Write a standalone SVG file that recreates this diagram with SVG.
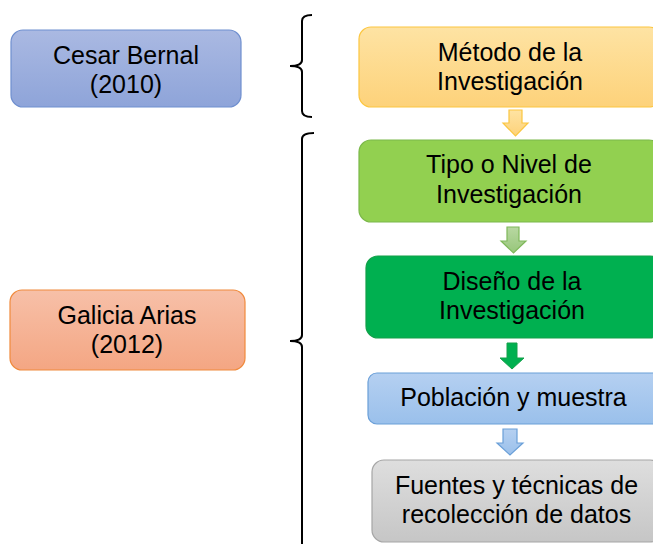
<svg xmlns="http://www.w3.org/2000/svg" width="653" height="544" viewBox="0 0 653 544">
<defs>
<linearGradient id="gBlue" x1="0" y1="0" x2="0" y2="1"><stop offset="0" stop-color="#aab9e2"/><stop offset="1" stop-color="#8ea4d9"/></linearGradient>
<linearGradient id="gOrange" x1="0" y1="0" x2="0" y2="1"><stop offset="0" stop-color="#f7c0a8"/><stop offset="1" stop-color="#f4a683"/></linearGradient>
<linearGradient id="gGold" x1="0" y1="0" x2="0" y2="1"><stop offset="0" stop-color="#fee3a3"/><stop offset="1" stop-color="#fdd27a"/></linearGradient>
<linearGradient id="gSky" x1="0" y1="0" x2="0" y2="1"><stop offset="0" stop-color="#b5d0f1"/><stop offset="1" stop-color="#9ac0eb"/></linearGradient>
<linearGradient id="gGray" x1="0" y1="0" x2="0" y2="1"><stop offset="0" stop-color="#dedede"/><stop offset="1" stop-color="#c6c6c6"/></linearGradient>
<linearGradient id="gLgreen" x1="0" y1="0" x2="0" y2="1"><stop offset="0" stop-color="#b8d8a2"/><stop offset="1" stop-color="#97c67a"/></linearGradient>
</defs>
<style>
text{font-family:"Liberation Sans",Arial,sans-serif;font-size:25px;fill:#000;text-anchor:middle}
.br{fill:none;stroke:#000;stroke-width:2}
</style>
<g id="connectors">
<path class="br" d="M312,15 Q302,15 302,21 V60 Q302,66 290,66 Q302,66 302,72 V111 Q302,117 312,117"/>
<path class="br" d="M314,133 Q302,133 302,139 V335 Q302,341 290,341 Q302,341 302,347 V550"/>
<path d="M509,110 H522 V123 H528 L515.5,136 L503,123 H509 Z" fill="url(#gGold)" stroke="#fbc640" stroke-width="1.2"/>
<path d="M507,227 H519 V241 H526 L513.5,253 L501,241 H507 Z" fill="url(#gLgreen)" stroke="#7fb85a" stroke-width="1.2"/>
<path d="M507,343 H517 V358 H524 L512,369 L500,358 H507 Z" fill="#00b050" stroke="#14a04a" stroke-width="1"/>
<path d="M503,429 H517 V443 H523 L510,455 L497,443 H503 Z" fill="url(#gSky)" stroke="#6a9fd8" stroke-width="1.2"/>
</g>
<g id="cesar">
<rect x="11" y="30" width="230" height="77" rx="12" fill="url(#gBlue)" stroke="#6f8fcf" stroke-width="1.2"/>
<text x="126" y="64">Cesar Bernal</text><text x="126" y="93">(2010)</text>
</g>
<g id="galicia">
<rect x="10" y="290" width="235" height="80" rx="12" fill="url(#gOrange)" stroke="#f08a3c" stroke-width="1.2"/>
<text x="127" y="324">Galicia Arias</text><text x="127" y="353">(2012)</text>
</g>
<g id="metodo">
<rect x="359" y="27" width="302" height="80" rx="12" fill="url(#gGold)" stroke="#fcc640" stroke-width="1.2"/>
<text x="510" y="61">Método de la</text><text x="510" y="90">Investigación</text>
</g>
<g id="tipo">
<rect x="359" y="140" width="302" height="82" rx="12" fill="#92d050" stroke="#7bb84a" stroke-width="1.2"/>
<text x="509" y="173">Tipo o Nivel de</text><text x="509" y="203">Investigación</text>
</g>
<g id="diseno">
<rect x="366" y="256" width="296" height="82" rx="12" fill="#00b050" stroke="#12a049" stroke-width="1.2"/>
<text x="512" y="290">Diseño de la</text><text x="512" y="319">Investigación</text>
</g>
<g id="poblacion">
<rect x="368" y="373" width="294" height="51" rx="9" fill="url(#gSky)" stroke="#6a9fd8" stroke-width="1.2"/>
<text x="513.5" y="406">Población y muestra</text>
</g>
<g id="fuentes">
<rect x="372" y="460" width="290" height="82" rx="12" fill="url(#gGray)" stroke="#a6a6a6" stroke-width="1.2"/>
<text x="516.5" y="494">Fuentes y técnicas de</text><text x="516.5" y="523">recolección de datos</text>
</g>
</svg>
